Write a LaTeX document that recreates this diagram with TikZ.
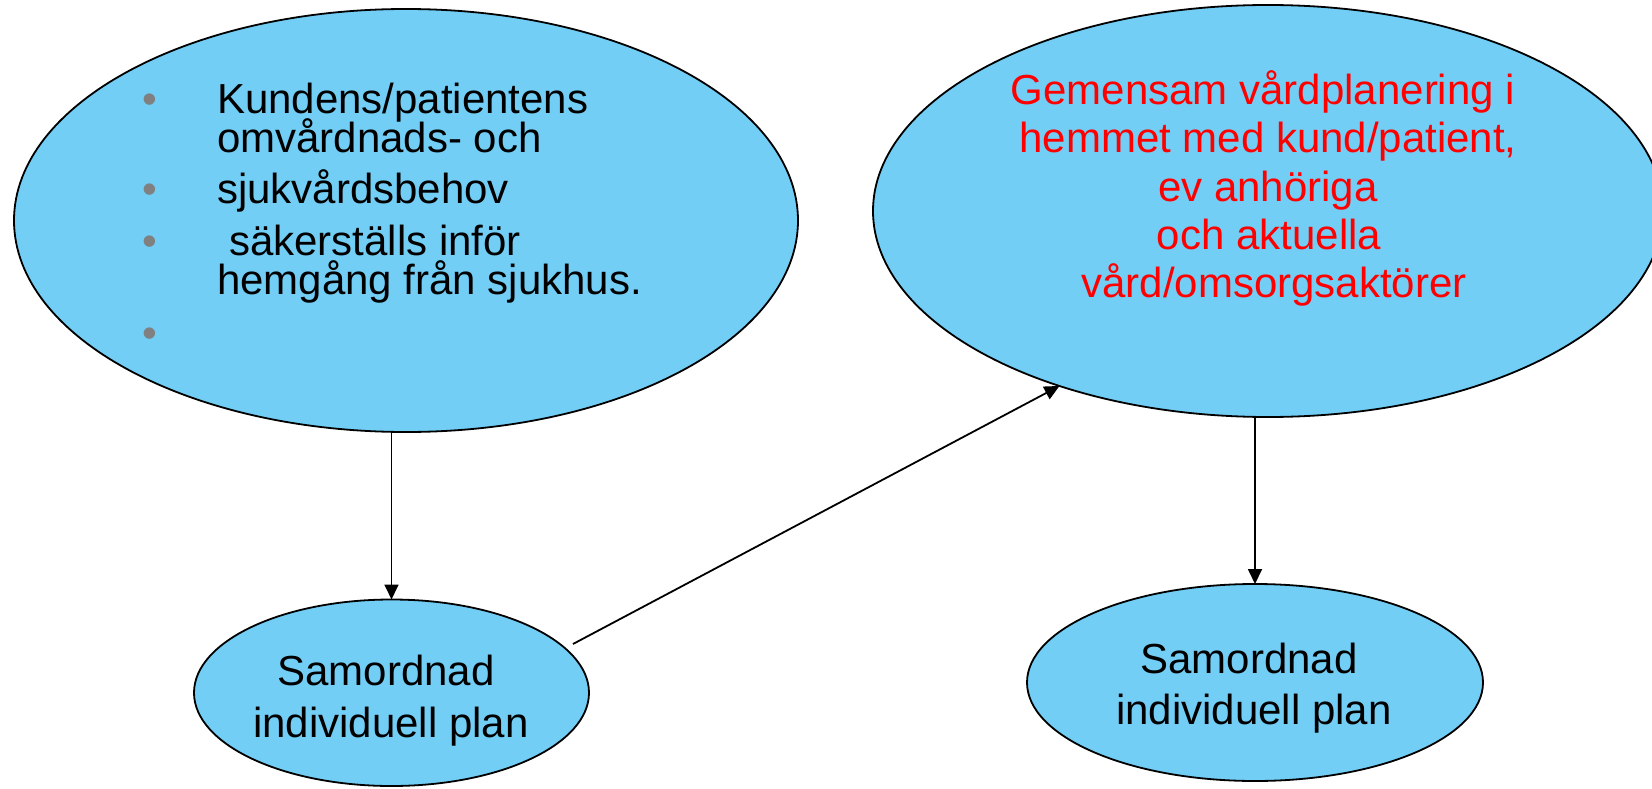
\documentclass[tikz,border=0pt]{standalone}
\usepackage{fontspec}
\setmainfont{Liberation Sans}
\usetikzlibrary{shapes.geometric,arrows.meta}
\definecolor{fillblue}{RGB}{114,206,245}
\definecolor{bulletgray}{RGB}{128,128,128}
\definecolor{redtext}{RGB}{255,0,0}
\begin{document}
\begin{tikzpicture}[x=1pt,y=-1pt,
  bub/.style={ellipse, draw=black, line width=1.8pt, fill=fillblue, inner sep=0pt, outer sep=0pt},
  txt/.style={inner sep=0pt, outer sep=0pt, font=\fontsize{42}{50}\selectfont},
  ltxt/.style={txt, anchor=base west},
  ctxt/.style={txt, anchor=base},
  rtxt/.style={ctxt, text=redtext},
  bul/.style={ctxt, text=bulletgray},
  conn/.style={line width=1.8pt, -{Triangle[length=15pt,width=14pt]}}]
\useasboundingbox (0,0) rectangle (1652,789);
% ellipses
\node[bub, minimum width=784pt, minimum height=423pt] (e1) at (406,220.5) {};
\node[bub, minimum width=790pt, minimum height=412pt] (e2) at (1268,211) {};
\node[bub, minimum width=395pt, minimum height=186.5pt] (e3) at (391.5,692.75) {};
\node[bub, minimum width=456pt, minimum height=197pt] (e4) at (1255,682.5) {};
% left text
\node[bul] (b1) at (150,114) {•};
\node[bul] (b2) at (150,204) {•};
\node[bul] (b3) at (150,255) {•};
\node[bul] (b4) at (150,347) {•};
\node[ltxt] (t1) at (217,114) {Kundens/patientens};
\node[ltxt] (t2) at (217,153) {omvårdnads- och};
\node[ltxt] (t3) at (217,204) {sjukvårdsbehov};
\node[ltxt] (t4) at (229,255) {säkerställs inför};
\node[ltxt] (t5) at (217,294) {hemgång från sjukhus.};
% right text
\node[rtxt] (r1) at (1263,105) {Gemensam vårdplanering i};
\node[rtxt] (r2) at (1268,153) {hemmet med kund/patient,};
\node[rtxt] (r3) at (1268,201) {ev anhöriga};
\node[rtxt] (r4) at (1269,249) {och aktuella};
\node[rtxt] (r5) at (1274,297) {vård/omsorgsaktörer};
% bottom texts
\node[ctxt] (s1) at (386,685) {Samordnad};
\node[ctxt] (s2) at (391,737) {individuell plan};
\node[ctxt] (u1) at (1249,673) {Samordnad};
\node[ctxt] (u2) at (1254,724) {individuell plan};
% connectors
\coordinate (st) at (573,644);
\draw[conn] (e1.south -| e3.north) -- (e3.north);
\draw[conn] (e2.south -| e4.north) -- (e4.north);
\draw[conn] (st) -- (e2.220);
\end{tikzpicture}
\end{document}
